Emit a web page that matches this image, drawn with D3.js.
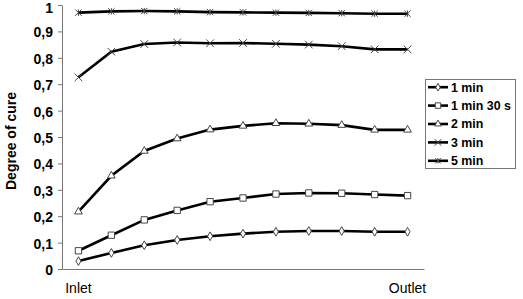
<!DOCTYPE html>
<html>
<head>
<meta charset="utf-8">
<script src="https://cdn.jsdelivr.net/npm/d3@7"></script>
<style>
  body { margin: 0; background: #fff; }
  svg { display: block; font-family: Arial, "Liberation Sans", sans-serif; }
</style>
</head>
<body>
<svg id="chart" width="523" height="299"></svg>
<script>
// positions along the flow path, only ends are labelled
const positions = d3.range(11)
const posLabels = ["Inlet", "", "", "", "", "", "", "", "", "", "Outlet"]
const seriesNames = ["1 min", "1 min 30 s", "2 min", "3 min", "5 min"]
const yTicks = [0, 0.1, 0.2, 0.3, 0.4, 0.5, 0.6, 0.7, 0.8, 0.9, 1]

const cure1min = [0.030, 0.061, 0.090, 0.110, 0.124, 0.134, 0.141, 0.144, 0.144, 0.141, 0.141]
const cure1min30 = [0.069, 0.128, 0.186, 0.222, 0.255, 0.269, 0.284, 0.288, 0.287, 0.282, 0.278]
const cure2min = [0.217, 0.353, 0.447, 0.494, 0.528, 0.542, 0.552, 0.550, 0.545, 0.527, 0.527]
const cure3min = [0.726, 0.823, 0.852, 0.858, 0.855, 0.856, 0.853, 0.850, 0.844, 0.832, 0.832]
const cure5min = [0.971, 0.976, 0.977, 0.976, 0.973, 0.972, 0.971, 0.970, 0.969, 0.967, 0.967]

const seriesValues = [cure1min, cure1min30, cure2min, cure3min, cure5min]

const margin = {top: 5, right: 99, bottom: 30, left: 62}
const [width, height] = [523, 299]

// excel style star: x with a vertical bar
const symbolStar = {
    draw(ctx, size) {
        const r = Math.sqrt(size) / 2
        ctx.moveTo(-r, -r); ctx.lineTo(r, r)
        ctx.moveTo(-r, r); ctx.lineTo(r, -r)
        ctx.moveTo(0, -r); ctx.lineTo(0, r)
    }
}
const markers = [
    {type: d3.symbolDiamond, size: 22, fill: "#fff"},
    {type: d3.symbolSquare, size: 40, fill: "#fff"},
    {type: d3.symbolTriangle, size: 26, fill: "#fff"},
    {type: d3.symbolTimes, size: 40, fill: "none"},
    {type: symbolStar, size: 40, fill: "none"}
]

const svg = d3.select("#chart")

const x = d3.scaleBand()
    .domain(positions)
    .range([margin.left, width - margin.right])
const y = d3.scaleLinear()
    .domain([0, 1])
    .range([height - margin.bottom, margin.top])
const cx = i => x(i) + x.bandwidth() / 2

const fmt = d3.formatLocale({decimal: ",", thousands: ".", grouping: [3], currency: ["", ""]}).format(".1~f")

// y axis
svg.append("g")
    .attr("transform", `translate(${margin.left},0)`)
    .call(d3.axisLeft(y).tickValues(yTicks).tickFormat(fmt).tickSizeInner(4).tickSizeOuter(0).tickPadding(5))
    .call(g => g.selectAll("line, path").attr("stroke", "#777"))
    .call(g => g.selectAll("text")
        .attr("font-size", 14).attr("font-weight", "bold").attr("fill", "#000")
        .attr("dy", d => d === 1 ? "0.55em" : "0.39em")
        .attr("font-family", "Arial, 'Liberation Sans', sans-serif"))

// x axis
svg.append("g")
    .attr("transform", `translate(0,${y(0)})`)
    .call(d3.axisBottom(x).tickSize(0).tickSizeOuter(0).tickPadding(14).tickFormat(i => posLabels[i]))
    .call(g => g.select(".domain").attr("stroke", "#777"))
    .call(g => g.selectAll("text")
        .attr("font-size", 14).attr("fill", "#000")
        .attr("font-family", "Arial, 'Liberation Sans', sans-serif"))

svg.append("text")
    .attr("transform", `translate(16,${(y(0) + y(1)) / 2 + 4}) rotate(-90)`)
    .attr("text-anchor", "middle")
    .attr("font-size", 14)
    .attr("font-weight", "bold")
    .text("Degree of cure")

const line = d3.line()
    .x((d, i) => cx(i))
    .y(d => y(d))

const series = svg.append("g")
    .selectAll("g")
    .data(seriesValues)
    .join("g")

series.append("path")
    .attr("d", d => line(d))
    .attr("fill", "none")
    .attr("stroke", "#000")
    .attr("stroke-width", 2.6)

series.each(function (vals, k) {
    const m = markers[k]
    d3.select(this).selectAll("path.mk")
        .data(vals)
        .join("path")
        .attr("class", "mk")
        .attr("transform", (d, i) => `translate(${cx(i)},${y(d)})`)
        .attr("d", d3.symbol(m.type, m.size))
        .attr("fill", m.fill)
        .attr("stroke", "#444")
        .attr("stroke-width", 1)
})

// legend
const ly = d3.scaleBand()
    .domain(seriesNames)
    .range([78, 170])
const legend = svg.append("g")

legend.append("rect")
    .attr("x", 425.5)
    .attr("y", 79.5)
    .attr("width", 90)
    .attr("height", 89)
    .attr("fill", "#fff")
    .attr("stroke", "#777")

const item = legend.selectAll("g.item")
    .data(seriesNames)
    .join("g")
    .attr("class", "item")
    .attr("transform", d => `translate(428,${ly(d) + ly.bandwidth() / 2})`)

item.append("line")
    .attr("x1", 0).attr("x2", 20)
    .attr("stroke", "#000").attr("stroke-width", 2.6)

item.append("path")
    .attr("transform", "translate(10,0)")
    .attr("d", (d, k) => d3.symbol(markers[k].type, markers[k].size * 0.75)())
    .attr("fill", (d, k) => markers[k].fill)
    .attr("stroke", "#444")

item.append("text")
    .attr("x", 23)
    .attr("dy", "0.35em")
    .attr("font-size", 12.4)
    .attr("font-weight", "bold")
    .text(d => d)
</script>
</body>
</html>
